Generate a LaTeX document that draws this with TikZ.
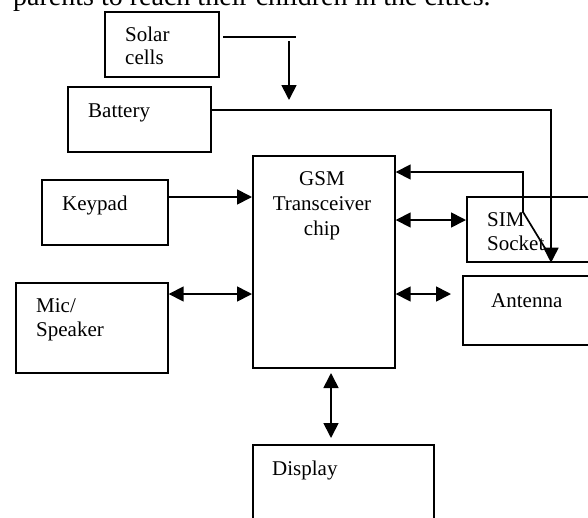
\documentclass[tikz,border=0pt]{standalone}
\usepackage{fontspec}
\setmainfont{Liberation Serif}
\usetikzlibrary{arrows.meta}
\begin{document}
\begin{tikzpicture}[x=1pt,y=-1pt,
  box/.style={draw, line width=1.7pt, inner sep=0pt, anchor=north west},
  lbl/.style={anchor=base west, inner sep=0pt, font=\fontsize{21}{25}\selectfont},
  clbl/.style={anchor=base, inner sep=0pt, font=\fontsize{21}{25}\selectfont},
  plain/.style={line width=1.7pt},
  conn/.style={line width=1.7pt, -{Triangle[length=15pt,width=15pt]}},
  dbl/.style={line width=1.7pt, {Triangle[length=15pt,width=15pt]}-{Triangle[length=15pt,width=15pt]}}]
\useasboundingbox (0,0) rectangle (588,517);
\clip (0,0) rectangle (588,517);

% caption line cut off at the top
\node[anchor=base west, inner sep=0pt, font=\fontsize{28}{34}\selectfont] (caption) at (13,5) {parents to reach their children in the cities.};

% boxes
\node[box, minimum width=114pt, minimum height=65pt] (solar) at (104,11) {};
\node[box, minimum width=143pt, minimum height=65pt] (battery) at (67,86) {};
\node[box, minimum width=126pt, minimum height=65pt] (keypad) at (41,179) {};
\node[box, minimum width=152pt, minimum height=90pt] (mic) at (15,282) {};
\node[box, minimum width=142pt, minimum height=212pt] (gsm) at (252,155) {};
\node[box, minimum width=150pt, minimum height=65pt] (sim) at (466,196) {};
\node[box, minimum width=150pt, minimum height=69pt] (ant) at (462,275) {};
\node[box, minimum width=181pt, minimum height=100pt] (disp) at (252,444) {};

% labels
\node[lbl] (tsolar) at (125,41) {Solar};
\node[lbl] (tcells) at (125,64) {cells};
\node[lbl] (tbatt) at (88,117) {Battery};
\node[lbl] (tkey) at (62,210) {Keypad};
\node[lbl] (tmic) at (36,312) {Mic/};
\node[lbl] (tspk) at (36,336) {Speaker};
\node[clbl] (tgsm) at (322,185) {GSM};
\node[clbl] (ttrx) at (322,210) {Transceiver};
\node[clbl] (tchip) at (322,235) {chip};
\node[lbl] (tsim) at (487,226) {SIM};
\node[lbl] (tsock) at (487,250) {Socket};
\node[lbl] (tant) at (491,307) {Antenna};
\node[lbl] (tdisp) at (272,475) {Display};

% free ends
\coordinate (s1) at (223,37);
\coordinate (s2) at (296,37);
\coordinate (s3) at (289,41);
\coordinate (s4) at (289,100);
\coordinate (b1) at (551,110);
\coordinate (r1) at (551,258);
\coordinate (r2) at (523,212);
\coordinate (r3) at (523,172);
\coordinate (a1) at (451,294);
\coordinate (d1) at (331,373);
\coordinate (d2) at (331,438);

% connectors
\draw[plain] (s1) -- (s2);
\draw[conn] (s3) -- (s4);
\draw[conn] (battery.east |- 0,110) -- (b1) -- (sim.south -| b1);
\draw[conn] (r1) -- (r2) -- (r3) -- (gsm.east |- r3);
\draw[conn] (keypad.east |- 0,197) -- (gsm.west |- 0,197);
\draw[dbl] (mic.east |- 0,294) -- (gsm.west |- 0,294);
\draw[dbl] (gsm.east |- 0,220) -- (sim.west |- 0,220);
\draw[dbl] (gsm.east |- a1) -- (a1);
\draw[dbl] (d1) -- (d2);
\end{tikzpicture}
\end{document}
